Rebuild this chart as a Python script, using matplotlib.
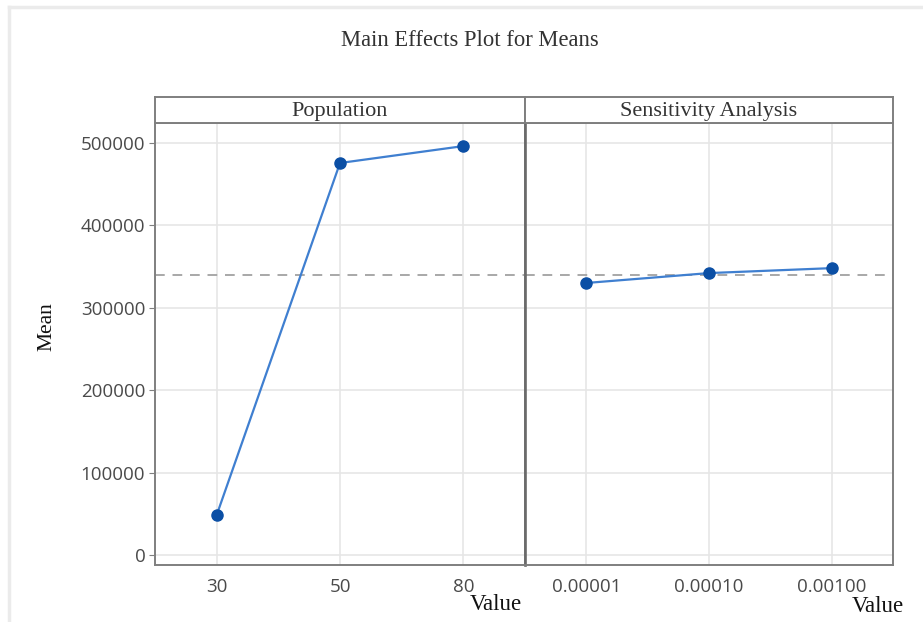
import numpy as np
import matplotlib
matplotlib.use("Agg")
import matplotlib.pyplot as plt
from matplotlib.lines import Line2D

# Factor levels and the mean response at each level
pop_levels = ["30", "50", "80"]
pop_means = [48500, 475500, 496000]

sens_levels = ["0.00001", "0.00010", "0.00100"]
sens_means = [330000, 342000, 348000]

y_ticks = [0, 100000, 200000, 300000, 400000, 500000]
panel_titles = ["Population", "Sensitivity Analysis"]

grand_mean = np.mean(pop_means + sens_means)

SERIF = ["Liberation Serif", "DejaVu Serif"]
SANS = ["Open Sans", "DejaVu Sans"]
FRAME = "#7f7f7f"
GRID = "#e6e6e6"
LINE_C = "#3f7fd0"
MARK_C = "#0b4fa5"
TICK_C = "#4a4a4a"

W, H = 923, 622
fig = plt.figure(figsize=(W / 100, H / 100), dpi=100)
fig.patch.set_facecolor("white")

# faint outer frame
fig.add_artist(Line2D([9 / W, 9 / W], [0, 1 - 7 / H], color="#ebebeb", lw=2.5, transform=fig.transFigure))
fig.add_artist(Line2D([9 / W, 1], [1 - 7 / H, 1 - 7 / H], color="#ebebeb", lw=2.5, transform=fig.transFigure))

left_px = [155, 525]
width_px = [370, 368]
top_px, bot_px, strip_top_px = 123, 565, 97

ymin, ymax = -12000, 524000

panels = [(pop_levels, pop_means), (sens_levels, sens_means)]
for i, (levels, means) in enumerate(panels):
    ax = fig.add_axes([left_px[i] / W, 1 - bot_px / H, width_px[i] / W, (bot_px - top_px) / H])
    x = np.arange(len(levels))
    ax.set_xlim(-0.5, len(levels) - 0.5)
    ax.set_ylim(ymin, ymax)
    ax.set_xticks(x)
    ax.set_xticklabels(levels, fontfamily=SANS, fontsize=13.5, color=TICK_C)
    ax.set_yticks(y_ticks)
    ax.grid(True, color=GRID, lw=1.2)
    ax.set_axisbelow(True)
    ax.axhline(grand_mean, color="#a8a8a8", lw=1.4, ls=(0, (5, 4)), zorder=2)
    ax.plot(x, means, color=LINE_C, lw=1.6, zorder=3)
    ax.plot(x, means, ls="none", marker="o", ms=8, color=MARK_C, zorder=4)
    for s in ax.spines.values():
        s.set_color(FRAME)
        s.set_linewidth(1.4)
    ax.tick_params(axis="x", length=0, pad=9)
    if i == 0:
        ax.set_yticklabels([str(v) for v in y_ticks], fontfamily=SANS, fontsize=13.5, color=TICK_C)
        ax.tick_params(axis="y", length=4, color=FRAME, pad=3)
    else:
        ax.tick_params(axis="y", length=0, labelleft=False)
        # divider between the two panels
        ax.spines["left"].set_linewidth(1.9)
        ax.spines["left"].set_color("#6a6a6a")

    # panel strip
    sax = fig.add_axes([left_px[i] / W, 1 - top_px / H, width_px[i] / W, (top_px - strip_top_px) / H])
    sax.set_xticks([])
    sax.set_yticks([])
    sax.set_facecolor("white")
    for s in sax.spines.values():
        s.set_color(FRAME)
        s.set_linewidth(1.4)
    sax.text(0.5, 0.45, panel_titles[i], ha="center", va="center", fontfamily=SERIF,
             fontsize=16, color="#333333", transform=sax.transAxes)

fig.text(470 / W, 1 - 40 / H, "Main Effects Plot for Means", ha="center", va="center",
         fontfamily=SERIF, fontsize=16.3, color="#333333")
fig.text(47 / W, 1 - 327 / H, "Mean", ha="center", va="center", rotation=90,
         fontfamily=SERIF, fontsize=15.5, color="#111111")
fig.text(496 / W, 1 - 605 / H, "Value", ha="center", va="center",
         fontfamily=SERIF, fontsize=16.5, color="#111111")
fig.text(878 / W, 1 - 606 / H, "Value", ha="center", va="center",
         fontfamily=SERIF, fontsize=16.5, color="#111111")

fig.savefig("out.png", dpi=100, facecolor="white")
